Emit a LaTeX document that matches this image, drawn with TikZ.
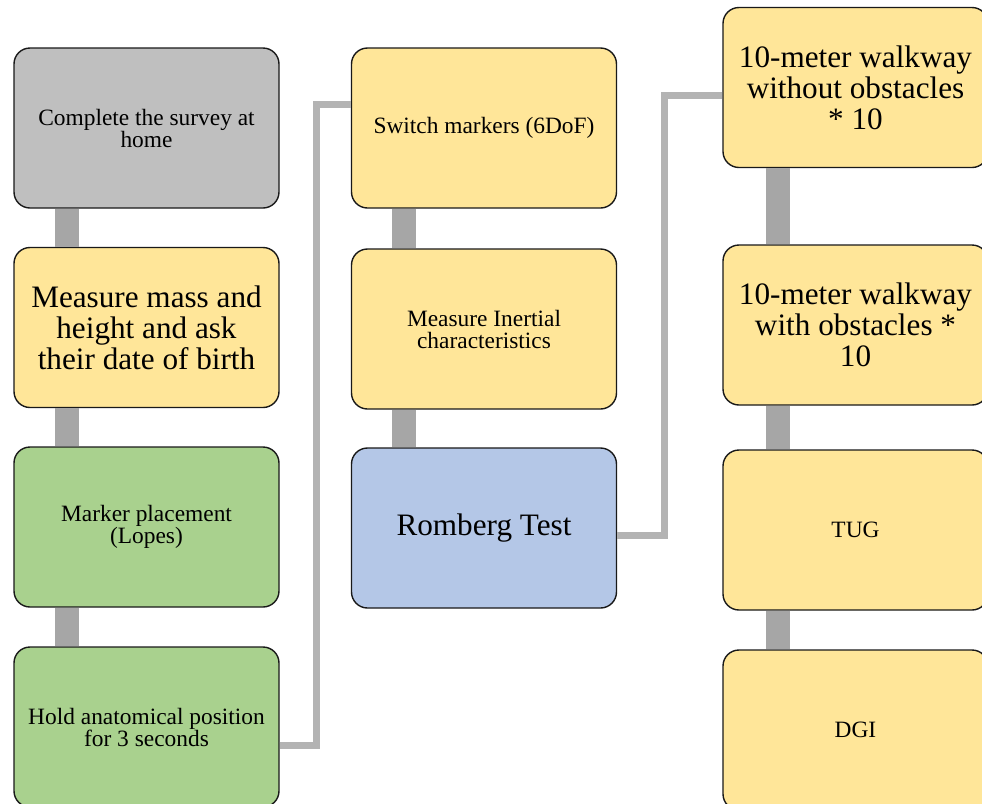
\documentclass[tikz,border=0pt]{standalone}
\usepackage{fontspec}
\setmainfont{Liberation Serif}
\definecolor{cardgray}{HTML}{BFBFBF}
\definecolor{cardyellow}{HTML}{FFE699}
\definecolor{cardgreen}{HTML}{A9D18E}
\definecolor{cardblue}{HTML}{B4C7E7}
\definecolor{trunkgray}{HTML}{A6A6A6}
\definecolor{branchgray}{HTML}{B3B3B3}
\begin{document}
\begin{tikzpicture}[x=0.5pt, y=-0.5pt,
    card/.style={draw=black!90, line width=0.7pt, rounded corners=8pt,
      minimum width=132.5pt, minimum height=80pt, align=center,
      inner sep=2pt},
    smalltxt/.style={font=\fontsize{11.7}{11}\selectfont},
    bigtxt/.style={font=\fontsize{15.6}{15.5}\selectfont},
    trunk/.style={draw=trunkgray, line width=12pt},
    branch/.style={draw=branchgray, line width=3.5pt}]
  \useasboundingbox (0,0) rectangle (982,804);
  %left column
  \node[card, smalltxt, fill=cardgray] (survey) at (146.5, 128)
    {Complete the survey at\\home};
  \node[card, bigtxt, fill=cardyellow] (mass) at (146.5, 327.5)
    {Measure mass and\\height and ask\\their date of birth};
  \node[card, smalltxt, fill=cardgreen] (marker) at (146.5, 527)
    {Marker placement\\(Lopes)};
  \node[card, smalltxt, fill=cardgreen] (hold) at (146.5, 727)
    {Hold anatomical position\\for 3 seconds};
  %middle column
  \node[card, smalltxt, fill=cardyellow] (switch) at (484, 128)
    {Switch markers (6DoF)};
  \node[card, smalltxt, fill=cardyellow] (inertial) at (484, 329)
    {Measure Inertial\\characteristics};
  \node[card, bigtxt, fill=cardblue] (romberg) at (484, 528)
    {Romberg Test};
  %right column
  \node[card, bigtxt, fill=cardyellow] (walkfree) at (855.5, 87.5)
    {10-meter walkway\\without obstacles\\* 10};
  \node[card, bigtxt, fill=cardyellow] (walkobst) at (855.5, 325)
    {10-meter walkway\\with obstacles *\\10};
  \node[card, smalltxt, fill=cardyellow] (tug) at (855.5, 530) {TUG};
  \node[card, smalltxt, fill=cardyellow] (dgi) at (855.5, 730) {DGI};

  \draw[trunk] ([xshift=-40pt]survey.south) -- ([xshift=-40pt]mass.north);
  \draw[trunk] ([xshift=-40pt]mass.south) -- ([xshift=-40pt]marker.north);
  \draw[trunk] ([xshift=-40pt]marker.south) -- ([xshift=-40pt]hold.north);
  \draw[trunk] ([xshift=-40pt]switch.south) -- ([xshift=-40pt]inertial.north);
  \draw[trunk] ([xshift=-40pt]inertial.south) -- ([xshift=-40pt]romberg.north);
  \draw[trunk] ([xshift=-39pt]walkfree.south) -- ([xshift=-39pt]walkobst.north);
  \draw[trunk] ([xshift=-39pt]walkobst.south) -- ([xshift=-39pt]tug.north);
  \draw[trunk] ([xshift=-39pt]tug.south) -- ([xshift=-39pt]dgi.north);

  \draw[branch] ([yshift=-9pt]hold.east) -- ++(18.25pt,0)
    |- ([yshift=12pt]switch.west);
  \draw[branch] ([yshift=-3.5pt]romberg.east) -- ++(23.5pt,0)
    |- ([yshift=-3.75pt]walkfree.west);
\end{tikzpicture}
\end{document}
